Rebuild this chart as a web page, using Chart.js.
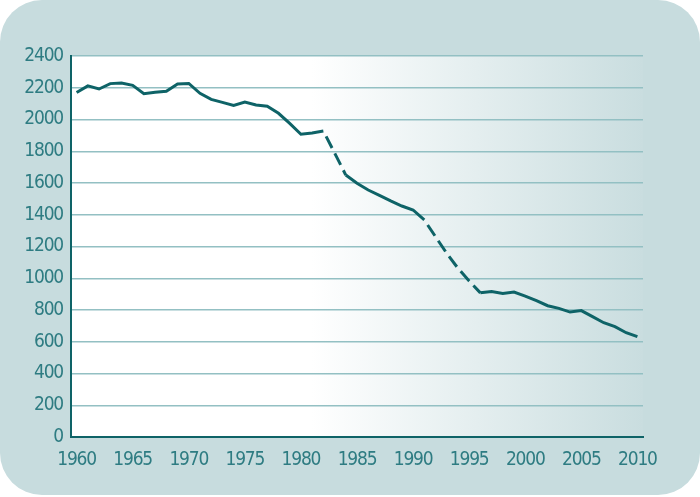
<!DOCTYPE html>
<html>
<head>
<meta charset="utf-8">
<script src="https://cdn.jsdelivr.net/npm/chart.js@4"></script>
<style>
  html, body { margin: 0; padding: 0; background: #ffffff; }
  .panel {
    position: absolute; left: 0; top: 0;
    width: 700px; height: 495px;
    background: #c7dcde;
    border-radius: 42px;
  }
  #chart { position: absolute; left: 0; top: 0; }
</style>
</head>
<body>
<div class="panel"></div>
<canvas id="chart" width="700" height="497"></canvas>
<script>
const years = [
  1960, 1961, 1962, 1963, 1964, 1965, 1966, 1967, 1968, 1969,
  1970, 1971, 1972, 1973, 1974, 1975, 1976, 1977, 1978, 1979,
  1980, 1981, 1982, 1983, 1984, 1985, 1986, 1987, 1988, 1989,
  1990, 1991, 1992, 1993, 1994, 1995, 1996, 1997, 1998, 1999,
  2000, 2001, 2002, 2003, 2004, 2005, 2006, 2007, 2008, 2009, 2010
];
const values = [
  2170, 2212, 2192, 2226, 2230, 2215, 2163, 2171, 2178, 2224,
  2227, 2165, 2127, 2108, 2089, 2110, 2091, 2083, 2039, 1976,
  1907, 1915, 1927, 1790, 1650, 1598, 1556, 1522, 1487, 1455,
  1430, 1367, 1262, 1157, 1063, 983, 908, 916, 904, 913,
  888, 859, 827, 810, 787, 796, 758, 720, 695, 657, 632
];
// stretches drawn dashed (start year, end year)
const dashedRanges = [[1982, 1984], [1991, 1996]];
const xTicks = [1960, 1965, 1970, 1975, 1980, 1985, 1990, 1995, 2000, 2005, 2010];
const yTicks = [0, 200, 400, 600, 800, 1000, 1200, 1400, 1600, 1800, 2000, 2200, 2400];

const lineColor = '#0e6367';
const tickColor = '#2e7c82';
const font = { family: "'DejaVu Sans', sans-serif", size: 19 };

const isDashed = (x) => dashedRanges.some(r => x >= r[0] && x < r[1]);

// white on the left, fading to the panel colour on the right
const plotBackground = {
  id: 'plotBackground',
  beforeDraw(chart) {
    const { ctx, chartArea: a } = chart;
    // narrow labels, closer to the condensed face of the original
    ctx.fontStretch = 'condensed';
    ctx.letterSpacing = '-1.2px';
    const g = ctx.createLinearGradient(a.left, 0, a.right, 0);
    g.addColorStop(0, '#ffffff');
    g.addColorStop(0.42, '#ffffff');
    g.addColorStop(1, '#c9dddf');
    ctx.save();
    ctx.fillStyle = g;
    ctx.fillRect(a.left, a.top, a.right - a.left, a.bottom - a.top);
    ctx.restore();
  }
};

new Chart(document.getElementById('chart'), {
  type: 'line',
  data: {
    datasets: [{
      data: years.map((y, i) => ({ x: y, y: values[i] })),
      borderColor: lineColor,
      borderWidth: 3,
      pointRadius: 0,
      tension: 0,
      segment: {
        borderDash: c => isDashed(c.p0.parsed.x) ? [13, 6] : undefined,
        borderDashOffset: c => isDashed(c.p0.parsed.x) ? 13 : undefined
      }
    }]
  },
  options: {
    responsive: false,
    animation: false,
    layout: { padding: { top: 56, right: 57, left: 0, bottom: 0 } },
    plugins: { legend: { display: false }, tooltip: { enabled: false } },
    scales: {
      x: {
        type: 'linear',
        min: 1959.5,
        max: 2010.5,
        afterBuildTicks: s => { s.ticks = xTicks.map(v => ({ value: v })); },
        afterFit: s => { s.height = 60; },
        grid: { display: false, drawTicks: false },
        border: { display: true, color: lineColor, width: 2 },
        ticks: { color: tickColor, font, padding: 12, maxRotation: 0, autoSkip: false,
                 callback: v => String(v) }
      },
      y: {
        min: 0,
        max: 2400,
        afterBuildTicks: s => { s.ticks = yTicks.map(v => ({ value: v })); },
        afterFit: s => { s.width = 71; },
        grid: { color: '#93c0c3', lineWidth: 1.5, drawTicks: false },
        border: { display: true, color: lineColor, width: 2 },
        ticks: { color: tickColor, font, padding: 8, callback: v => String(v) }
      }
    }
  },
  plugins: [plotBackground]
});
</script>
</body>
</html>
